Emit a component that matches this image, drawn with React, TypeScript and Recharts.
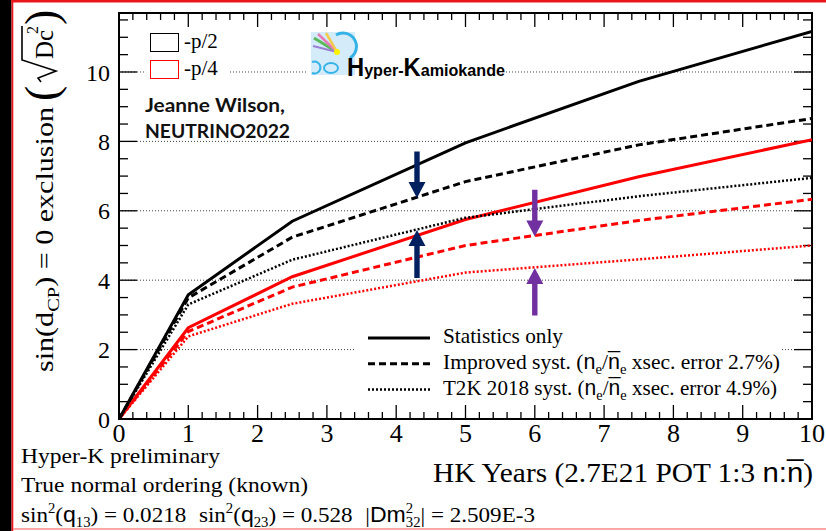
import React from "react";
import { CartesianGrid, Line, LineChart, ReferenceArea, ReferenceLine, XAxis, YAxis } from "recharts";

// HK exposure in years and the sin(dCP)=0 exclusion significance for each case
const years = [0, 1, 2.5, 5, 7.5, 10];
const statHalfPi = [0, 3.58, 5.7, 7.96, 9.73, 11.17];
const improvedHalfPi = [0, 3.49, 5.24, 6.84, 7.9, 8.66];
const t2kHalfPi = [0, 3.3, 4.59, 5.8, 6.42, 6.95];
const statQuarterPi = [0, 2.63, 4.1, 5.75, 6.98, 8.05];
const improvedQuarterPi = [0, 2.52, 3.8, 5.0, 5.72, 6.33];
const t2kQuarterPi = [0, 2.38, 3.32, 4.22, 4.6, 5.0];

const xTicks = [0, 1, 2, 3, 4, 5, 6, 7, 8, 9, 10];
const yTicks = [0, 2, 4, 6, 8, 10];
const yMax = 11.7;

// annotation arrows: year, tail value, head value
const arrowYears = [4.3, 4.3, 6.0, 6.0];
const arrowFrom = [7.71, 4.06, 6.61, 2.98];
const arrowTo = [6.37, 5.45, 5.26, 4.35];
const arrowColors = ["#002060", "#002060", "#7030a0", "#7030a0"];

const rows = years.map((year, i) => ({
  year,
  statHalfPi: statHalfPi[i],
  improvedHalfPi: improvedHalfPi[i],
  t2kHalfPi: t2kHalfPi[i],
  statQuarterPi: statQuarterPi[i],
  improvedQuarterPi: improvedQuarterPi[i],
  t2kQuarterPi: t2kQuarterPi[i],
}));

const SOLID = { width: 3, dash: undefined as string | undefined };
const DASHED = { width: 3, dash: "7 4" };
const DOTTED = { width: 2.5, dash: "2 2" };

const series = [
  { key: "t2kQuarterPi", color: "#ff0000", ...DOTTED },
  { key: "improvedQuarterPi", color: "#ff0000", ...DASHED },
  { key: "statQuarterPi", color: "#ff0000", ...SOLID },
  { key: "t2kHalfPi", color: "#000000", ...DOTTED },
  { key: "improvedHalfPi", color: "#000000", ...DASHED },
  { key: "statHalfPi", color: "#000000", ...SOLID },
];

// minor tick positions
const xMinor: number[] = [];
for (let i = 1; i < 50; i++) if (i % 5 !== 0) xMinor.push(i / 5);
const yMinor: number[] = [];
for (let i = 1; i <= 23; i++) if (i % 4 !== 0) yMinor.push(i / 2);
const yMajorInner = [2, 4, 6, 8, 10];
const xMajorInner = [1, 2, 3, 4, 5, 6, 7, 8, 9];

const SERIF = "'Liberation Serif', 'Times New Roman', serif";
const SANS = "'Liberation Sans', Arial, sans-serif";

// inward ticks on both opposite frame edges
const vTicks = (len: number) => (p: any) => {
  const top = Math.min(p.y1, p.y2);
  const bot = Math.max(p.y1, p.y2);
  return (
    <g>
      <line x1={p.x1} x2={p.x1} y1={bot} y2={bot - len} stroke="#000" strokeWidth={1.3} />
      <line x1={p.x1} x2={p.x1} y1={top} y2={top + len} stroke="#000" strokeWidth={1.3} />
    </g>
  );
};
const hTicks = (len: number) => (p: any) => {
  const l = Math.min(p.x1, p.x2);
  const r = Math.max(p.x1, p.x2);
  return (
    <g>
      <line x1={l} x2={l + len} y1={p.y1} y2={p.y1} stroke="#000" strokeWidth={1.3} />
      <line x1={r} x2={r - len} y1={p.y1} y2={p.y1} stroke="#000" strokeWidth={1.3} />
    </g>
  );
};

const arrowShape = (color: string) => (p: any) => {
  const { x1, y1, y2 } = p;
  const dir = Math.sign(y2 - y1);
  const neck = y2 - dir * 16;
  const pts = [
    [x1 - 2.7, y1],
    [x1 + 2.7, y1],
    [x1 + 2.7, neck],
    [x1 + 8.5, neck],
    [x1, y2],
    [x1 - 8.5, neck],
    [x1 - 2.7, neck],
  ]
    .map((q) => q.join(","))
    .join(" ");
  return <polygon points={pts} fill={color} />;
};

const legendRows = [
  { label: "stat", ...SOLID },
  { label: "improved", ...DASHED },
  { label: "t2k", ...DOTTED },
];

function NuRatio() {
  return (
    <>
      <tspan fontFamily={SANS}>n</tspan>
      <tspan fontSize={15} dy={5}>e</tspan>
      <tspan dy={-5}>/</tspan>
      <tspan fontFamily={SANS}>n&#x0305;</tspan>
      <tspan fontSize={15} dy={5}>e</tspan>
    </>
  );
}

function Overlay() {
  return (
    <svg width={826} height={531} style={{ position: "absolute", left: 0, top: 0, pointerEvents: "none" }}>
      {/* page border */}
      <rect x={0} y={0} width={11.5} height={531} fill="#000" />
      <rect x={11.5} y={0} width={1.8} height={531} fill="#e8161b" />
      <rect x={11.5} y={0} width={815} height={2.5} fill="#e8161b" />
      <rect x={13} y={528.2} width={813} height={1.5} fill="#ff8a8a" />

      {/* y-axis title */}
      <g transform="translate(53,372) rotate(-90)" fontFamily={SERIF} fill="#000">
        <text x={0} y={0} fontSize={25} textLength={265} lengthAdjust="spacingAndGlyphs">
          sin(d
          <tspan fontSize={17} dy={6}>CP</tspan>
          <tspan dy={-6}>) = 0 exclusion</tspan>
        </text>
        <text x={271} y={4} fontSize={46} fontWeight={300}>(</text>
        <polyline points="290,-12 294,-15 301,3 312,-31 346,-31" fill="none" stroke="#000" strokeWidth={1.6} />
        <text x={313} y={0} fontSize={25}>Dc</text>
        <text x={338} y={-15} fontSize={16}>2</text>
        <text x={347} y={4} fontSize={46} fontWeight={300}>)</text>
      </g>

      {/* x-axis title */}
      <text x={433} y={482} fontFamily={SERIF} fontSize={27} textLength={380} lengthAdjust="spacingAndGlyphs">
        HK Years (2.7E21 POT 1:3 <tspan fontFamily={SANS}>n:n&#x0305;</tspan>)
      </text>

      {/* footnotes */}
      <g fontFamily={SERIF} fontSize={22} fill="#000">
        <text x={21} y={463} textLength={199} lengthAdjust="spacingAndGlyphs">Hyper-K preliminary</text>
        <text x={21} y={492} textLength={287} lengthAdjust="spacingAndGlyphs">True normal ordering (known)</text>
        <text x={21} y={522} textLength={514} lengthAdjust="spacingAndGlyphs">
          sin<tspan fontSize={14} dy={-9}>2</tspan>
          <tspan dy={9}>(</tspan>
          <tspan fontFamily={SANS}>q</tspan>
          <tspan fontSize={14} dy={5}>13</tspan>
          <tspan dy={-5}>) = 0.0218</tspan>
          <tspan dx={12}>sin</tspan>
          <tspan fontSize={14} dy={-9}>2</tspan>
          <tspan dy={9}>(</tspan>
          <tspan fontFamily={SANS}>q</tspan>
          <tspan fontSize={14} dy={5}>23</tspan>
          <tspan dy={-5}>) = 0.528</tspan>
          <tspan dx={12}>|</tspan>
          <tspan fontFamily={SANS}>Dm</tspan>
          <tspan fontSize={14} dy={-9}>2</tspan>
          <tspan fontSize={14} dx={-7} dy={14}>32</tspan>
          <tspan dy={-5}>| = 2.509E-3</tspan>
        </text>
      </g>

      {/* phase legend */}
      <rect x={146} y={28} width={82} height={56} fill="#fff" />
      <rect x={150.5} y={33.5} width={28} height={18} fill="none" stroke="#000" strokeWidth={1} />
      <rect x={150.5} y={60.5} width={28} height={18} fill="none" stroke="#ff0000" strokeWidth={1} />
      <text x={184} y={48} fontFamily={SERIF} fontSize={21}>-p/2</text>
      <text x={184} y={75} fontFamily={SERIF} fontSize={21}>-p/4</text>

      {/* author tag */}
      <g fontFamily="Lato, 'Open Sans', sans-serif" fontWeight={700} fontSize={19} fill="#111">
        <text x={145} y={112} textLength={140} lengthAdjust="spacingAndGlyphs">Jeanne Wilson,</text>
        <text x={145} y={138} textLength={145} lengthAdjust="spacingAndGlyphs">NEUTRINO2022</text>
      </g>

      {/* experiment logo */}
      <rect x={307} y={28} width={198} height={54} fill="#fff" />
      <rect x={311} y={32} width={44} height={43} fill="#d4ecfa" />
      <path d="M336,35 A13,13 0 1,1 350,58" fill="none" stroke="#35b3e6" strokeWidth={3} />
      <path d="M312,62 A6,6 0 1,1 312,73" fill="none" stroke="#35b3e6" strokeWidth={2} />
      <ellipse cx={331} cy={68} rx={7} ry={5} fill="none" stroke="#35b3e6" strokeWidth={2} />
      <line x1={314} y1={38} x2={337} y2={52} stroke="#5cb85c" strokeWidth={3} />
      <line x1={318} y1={34} x2={337} y2={52} stroke="#e879b9" strokeWidth={2.5} />
      <line x1={326} y1={33} x2={337} y2={52} stroke="#f2c94c" strokeWidth={2.5} />
      <line x1={313} y1={46} x2={337} y2={52} stroke="#9b7fd1" strokeWidth={2} />
      <circle cx={337} cy={52} r={3} fill="#fff200" />
      <text x={347} y={76} fontFamily="'Liberation Sans Narrow', 'Liberation Sans', Arial, sans-serif" fontWeight={700} fontSize={17} fill="#000" textLength={158} lengthAdjust="spacingAndGlyphs">
        <tspan fontSize={25}>H</tspan>yper-<tspan fontSize={25}>K</tspan>amiokande
      </text>

      {/* systematics legend */}
      <rect x={355} y={318} width={427} height={86} fill="#fff" />
      {legendRows.map((r, i) => (
        <line key={r.label} x1={368} x2={430} y1={338 + i * 25.8} y2={338 + i * 25.8} stroke="#000" strokeWidth={r.width} strokeDasharray={r.dash} />
      ))}
      <g fontFamily={SERIF} fontSize={22} fill="#000">
        <text x={443} y={343} textLength={120} lengthAdjust="spacingAndGlyphs">Statistics only</text>
        <text x={443} y={369} textLength={337} lengthAdjust="spacingAndGlyphs">
          Improved syst. (<NuRatio />
          <tspan dy={-5}> xsec. error 2.7%)</tspan>
        </text>
        <text x={443} y={395} textLength={334} lengthAdjust="spacingAndGlyphs">
          T2K 2018 syst. (<NuRatio />
          <tspan dy={-5}> xsec. error 4.9%)</tspan>
        </text>
      </g>
    </svg>
  );
}

export default function App() {
  return (
    <div style={{ position: "absolute", left: 0, top: 0, width: 826, height: 531, background: "#fff" }}>
      <LineChart width={826} height={531} data={rows} margin={{ top: 13, right: 14, bottom: 72, left: 0 }}>
        <CartesianGrid vertical={false} stroke="#444" strokeDasharray="1 2" strokeWidth={1} />
        <XAxis
          dataKey="year"
          type="number"
          domain={[0, 10]}
          ticks={xTicks}
          height={40}
          tickLine={false}
          tickSize={0}
          tickMargin={5}
          axisLine={{ stroke: "#000", strokeWidth: 2 }}
          tick={{ fill: "#000", fontSize: 26, fontFamily: SERIF }}
          allowDataOverflow
        />
        <YAxis
          type="number"
          domain={[0, yMax]}
          ticks={yTicks}
          width={119}
          tickLine={false}
          tickSize={0}
          tickMargin={9}
          axisLine={{ stroke: "#000", strokeWidth: 2 }}
          tick={{ fill: "#000", fontSize: 24, fontFamily: SERIF }}
          allowDataOverflow
        />
        <ReferenceArea x1={0} x2={10} y1={0} y2={yMax} fill="none" stroke="#000" strokeWidth={2} />
        {xMinor.map((v) => (
          <ReferenceLine key={`xm${v}`} x={v} shape={vTicks(7)} />
        ))}
        {xMajorInner.map((v) => (
          <ReferenceLine key={`xM${v}`} x={v} shape={vTicks(14)} />
        ))}
        {yMinor.map((v) => (
          <ReferenceLine key={`ym${v}`} y={v} shape={hTicks(9)} />
        ))}
        {yMajorInner.map((v) => (
          <ReferenceLine key={`yM${v}`} y={v} shape={hTicks(18)} />
        ))}
        {series.map((s) => (
          <Line
            key={s.key}
            type="linear"
            dataKey={s.key}
            stroke={s.color}
            strokeWidth={s.width}
            strokeDasharray={s.dash}
            dot={false}
            isAnimationActive={false}
          />
        ))}
        {arrowYears.map((x, i) => (
          <ReferenceLine
            key={`arrow${i}`}
            segment={[
              { x, y: arrowFrom[i] },
              { x, y: arrowTo[i] },
            ]}
            shape={arrowShape(arrowColors[i])}
          />
        ))}
      </LineChart>
      <Overlay />
    </div>
  );
}
